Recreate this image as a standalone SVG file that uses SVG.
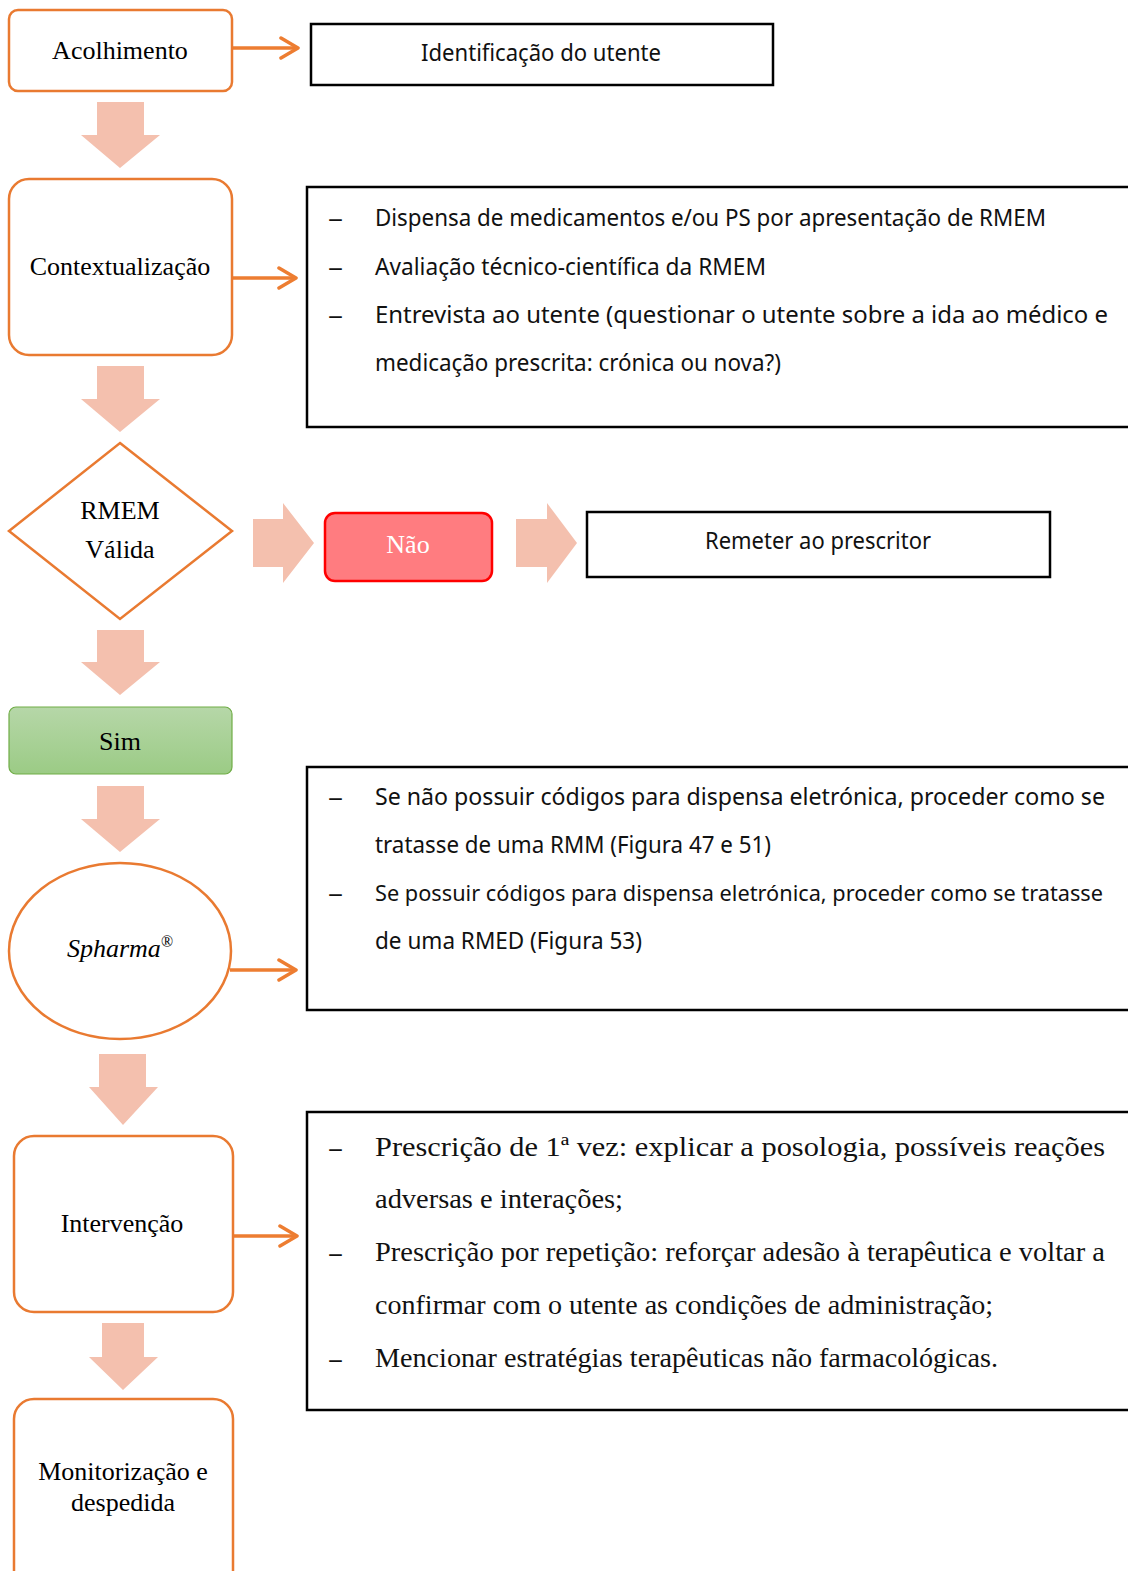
<svg xmlns="http://www.w3.org/2000/svg" width="1128" height="1571" viewBox="0 0 1128 1571">
<style>
.node{fill:#fff;stroke:#E97A31;stroke-width:2.5}
.serif{font-family:"Liberation Serif","Times New Roman",serif;font-size:26px;fill:#000;text-anchor:middle}
.box{fill:#fff;stroke:#000;stroke-width:2.5}
.sans{font-family:"Noto Sans","DejaVu Sans",sans-serif;font-size:24px;fill:#111}
.body{font-family:"Liberation Serif","Times New Roman",serif;font-size:28px;fill:#111}
.dash{font-family:"Noto Sans","DejaVu Sans",sans-serif;font-size:24px;fill:#111}
.blk{fill:#F4C0AE}
.conn{stroke:#ED7D31;stroke-width:3.5;fill:none}
</style>
<defs>
<marker id="chev" viewBox="0 0 22 26" refX="20" refY="13" markerWidth="22" markerHeight="26" markerUnits="userSpaceOnUse" orient="auto">
<path d="M3,3 L20,13 L3,23" fill="none" stroke="#ED7D31" stroke-width="3.5" stroke-linecap="round" stroke-linejoin="round"/>
</marker>
<linearGradient id="green" x1="0" y1="0" x2="0" y2="1">
<stop offset="0" stop-color="#B6D7A8"/>
<stop offset="1" stop-color="#9BCB85"/>
</linearGradient>
</defs>

<g id="connectors">
<line class="conn" x1="232" y1="48" x2="298" y2="48" marker-end="url(#chev)"/>
<line class="conn" x1="232" y1="278" x2="296" y2="278" marker-end="url(#chev)"/>
<line class="conn" x1="230" y1="970" x2="296" y2="970" marker-end="url(#chev)"/>
<line class="conn" x1="231" y1="1236" x2="297" y2="1236" marker-end="url(#chev)"/>
<polygon class="blk" points="97,102 144,102 144,135 160,135 120,168 81,135 97,135"/>
<polygon class="blk" points="97,366 144,366 144,399 160,399 120,432 81,399 97,399"/>
<polygon class="blk" points="97,630 144,630 144,662 160,662 120,695 81,662 97,662"/>
<polygon class="blk" points="97,786 144,786 144,819 160,819 120,852 81,819 97,819"/>
<polygon class="blk" points="99,1054 146,1054 146,1087 158,1087 123,1125 89,1087 99,1087"/>
<polygon class="blk" points="102,1323 144,1323 144,1357 158,1357 123,1390 89,1357 102,1357"/>
<polygon class="blk" points="253,519 283,519 283,503 314,543 283,583 283,567 253,567"/>
<polygon class="blk" points="516,519 547,519 547,503 577,543 547,583 547,567 516,567"/>
</g>

<g id="acolhimento">
<rect class="node" x="9" y="10" width="223" height="81" rx="9"/>
<text class="serif" x="120" y="59">Acolhimento</text>
</g>
<g id="identificacao">
<rect class="box" x="311" y="24" width="462" height="61"/>
<text class="sans" x="541" y="61" text-anchor="middle" textLength="240" lengthAdjust="spacingAndGlyphs">Identificação do utente</text>
</g>

<g id="contextualizacao">
<rect class="node" x="9" y="179" width="223" height="176" rx="20"/>
<text class="serif" x="120" y="275">Contextualização</text>
</g>
<g id="contexto-detalhe">
<rect class="box" x="307" y="187" width="840" height="240"/>
<text class="dash" x="328" y="226" textLength="15" lengthAdjust="spacingAndGlyphs">–</text>
<text class="sans" x="375" y="226" textLength="671" lengthAdjust="spacingAndGlyphs">Dispensa de medicamentos e/ou PS por apresentação de RMEM</text>
<text class="dash" x="328" y="275" textLength="15" lengthAdjust="spacingAndGlyphs">–</text>
<text class="sans" x="375" y="275" textLength="391" lengthAdjust="spacingAndGlyphs">Avaliação técnico-científica da RMEM</text>
<text class="dash" x="328" y="323" textLength="15" lengthAdjust="spacingAndGlyphs">–</text>
<text class="sans" x="375" y="323" textLength="733" lengthAdjust="spacingAndGlyphs">Entrevista ao utente (questionar o utente sobre a ida ao médico e</text>
<text class="sans" x="375" y="371" textLength="406" lengthAdjust="spacingAndGlyphs">medicação prescrita: crónica ou nova?)</text>
</g>

<g id="rmem-valida">
<polygon class="node" points="120,443 232,531 120,619 9,531"/>
<text class="serif" x="120" y="519">RMEM</text>
<text class="serif" x="120" y="558">Válida</text>
</g>
<g id="nao">
<rect x="325" y="513" width="167" height="68" rx="10" fill="#FF7C80" stroke="#FF0000" stroke-width="2.5"/>
<text class="serif" x="408" y="553" style="fill:#fff">Não</text>
</g>
<g id="remeter">
<rect class="box" x="587" y="512" width="463" height="65"/>
<text class="sans" x="818" y="549" text-anchor="middle" textLength="226" lengthAdjust="spacingAndGlyphs">Remeter ao prescritor</text>
</g>

<g id="sim">
<rect x="9" y="707" width="223" height="67" rx="7" fill="url(#green)" stroke="#70AD47" stroke-width="1.2"/>
<text class="serif" x="120" y="750">Sim</text>
</g>

<g id="spharma">
<ellipse class="node" cx="120" cy="951" rx="111" ry="88"/>
<text class="serif" x="120" y="957" font-style="italic">Spharma<tspan font-size="16" font-style="normal" dy="-10">®</tspan></text>
</g>
<g id="spharma-detalhe">
<rect class="box" x="307" y="767" width="840" height="243"/>
<text class="dash" x="328" y="805" textLength="15" lengthAdjust="spacingAndGlyphs">–</text>
<text class="sans" x="375" y="805" style="font-size:23px" textLength="730" lengthAdjust="spacingAndGlyphs">Se não possuir códigos para dispensa eletrónica, proceder como se</text>
<text class="sans" x="375" y="853" textLength="396" lengthAdjust="spacingAndGlyphs">tratasse de uma RMM (Figura 47 e 51)</text>
<text class="dash" x="328" y="901" textLength="15" lengthAdjust="spacingAndGlyphs">–</text>
<text class="sans" x="375" y="901" style="font-size:22px" textLength="728" lengthAdjust="spacingAndGlyphs">Se possuir códigos para dispensa eletrónica, proceder como se tratasse</text>
<text class="sans" x="375" y="949" textLength="267" lengthAdjust="spacingAndGlyphs">de uma RMED (Figura 53)</text>
</g>

<g id="intervencao">
<rect class="node" x="14" y="1136" width="219" height="176" rx="20"/>
<text class="serif" x="122" y="1232">Intervenção</text>
</g>
<g id="intervencao-detalhe">
<rect class="box" x="307" y="1112" width="840" height="298"/>
<text class="dash" x="328" y="1156" textLength="15" lengthAdjust="spacingAndGlyphs">–</text>
<text class="body" x="375" y="1156" textLength="730" lengthAdjust="spacingAndGlyphs">Prescrição de 1ª vez: explicar a posologia, possíveis reações</text>
<text class="body" x="375" y="1208" textLength="248" lengthAdjust="spacingAndGlyphs">adversas e interações;</text>
<text class="dash" x="328" y="1261" textLength="15" lengthAdjust="spacingAndGlyphs">–</text>
<text class="body" x="375" y="1261" textLength="730" lengthAdjust="spacingAndGlyphs">Prescrição por repetição: reforçar adesão à terapêutica e voltar a</text>
<text class="body" x="375" y="1314" textLength="618" lengthAdjust="spacingAndGlyphs">confirmar com o utente as condições de administração;</text>
<text class="dash" x="328" y="1367" textLength="15" lengthAdjust="spacingAndGlyphs">–</text>
<text class="body" x="375" y="1367" textLength="623" lengthAdjust="spacingAndGlyphs">Mencionar estratégias terapêuticas não farmacológicas.</text>
</g>

<g id="monitorizacao">
<rect class="node" x="14" y="1399" width="219" height="220" rx="20"/>
<text class="serif" x="123" y="1480">Monitorização e</text>
<text class="serif" x="123" y="1511">despedida</text>
</g>
</svg>
